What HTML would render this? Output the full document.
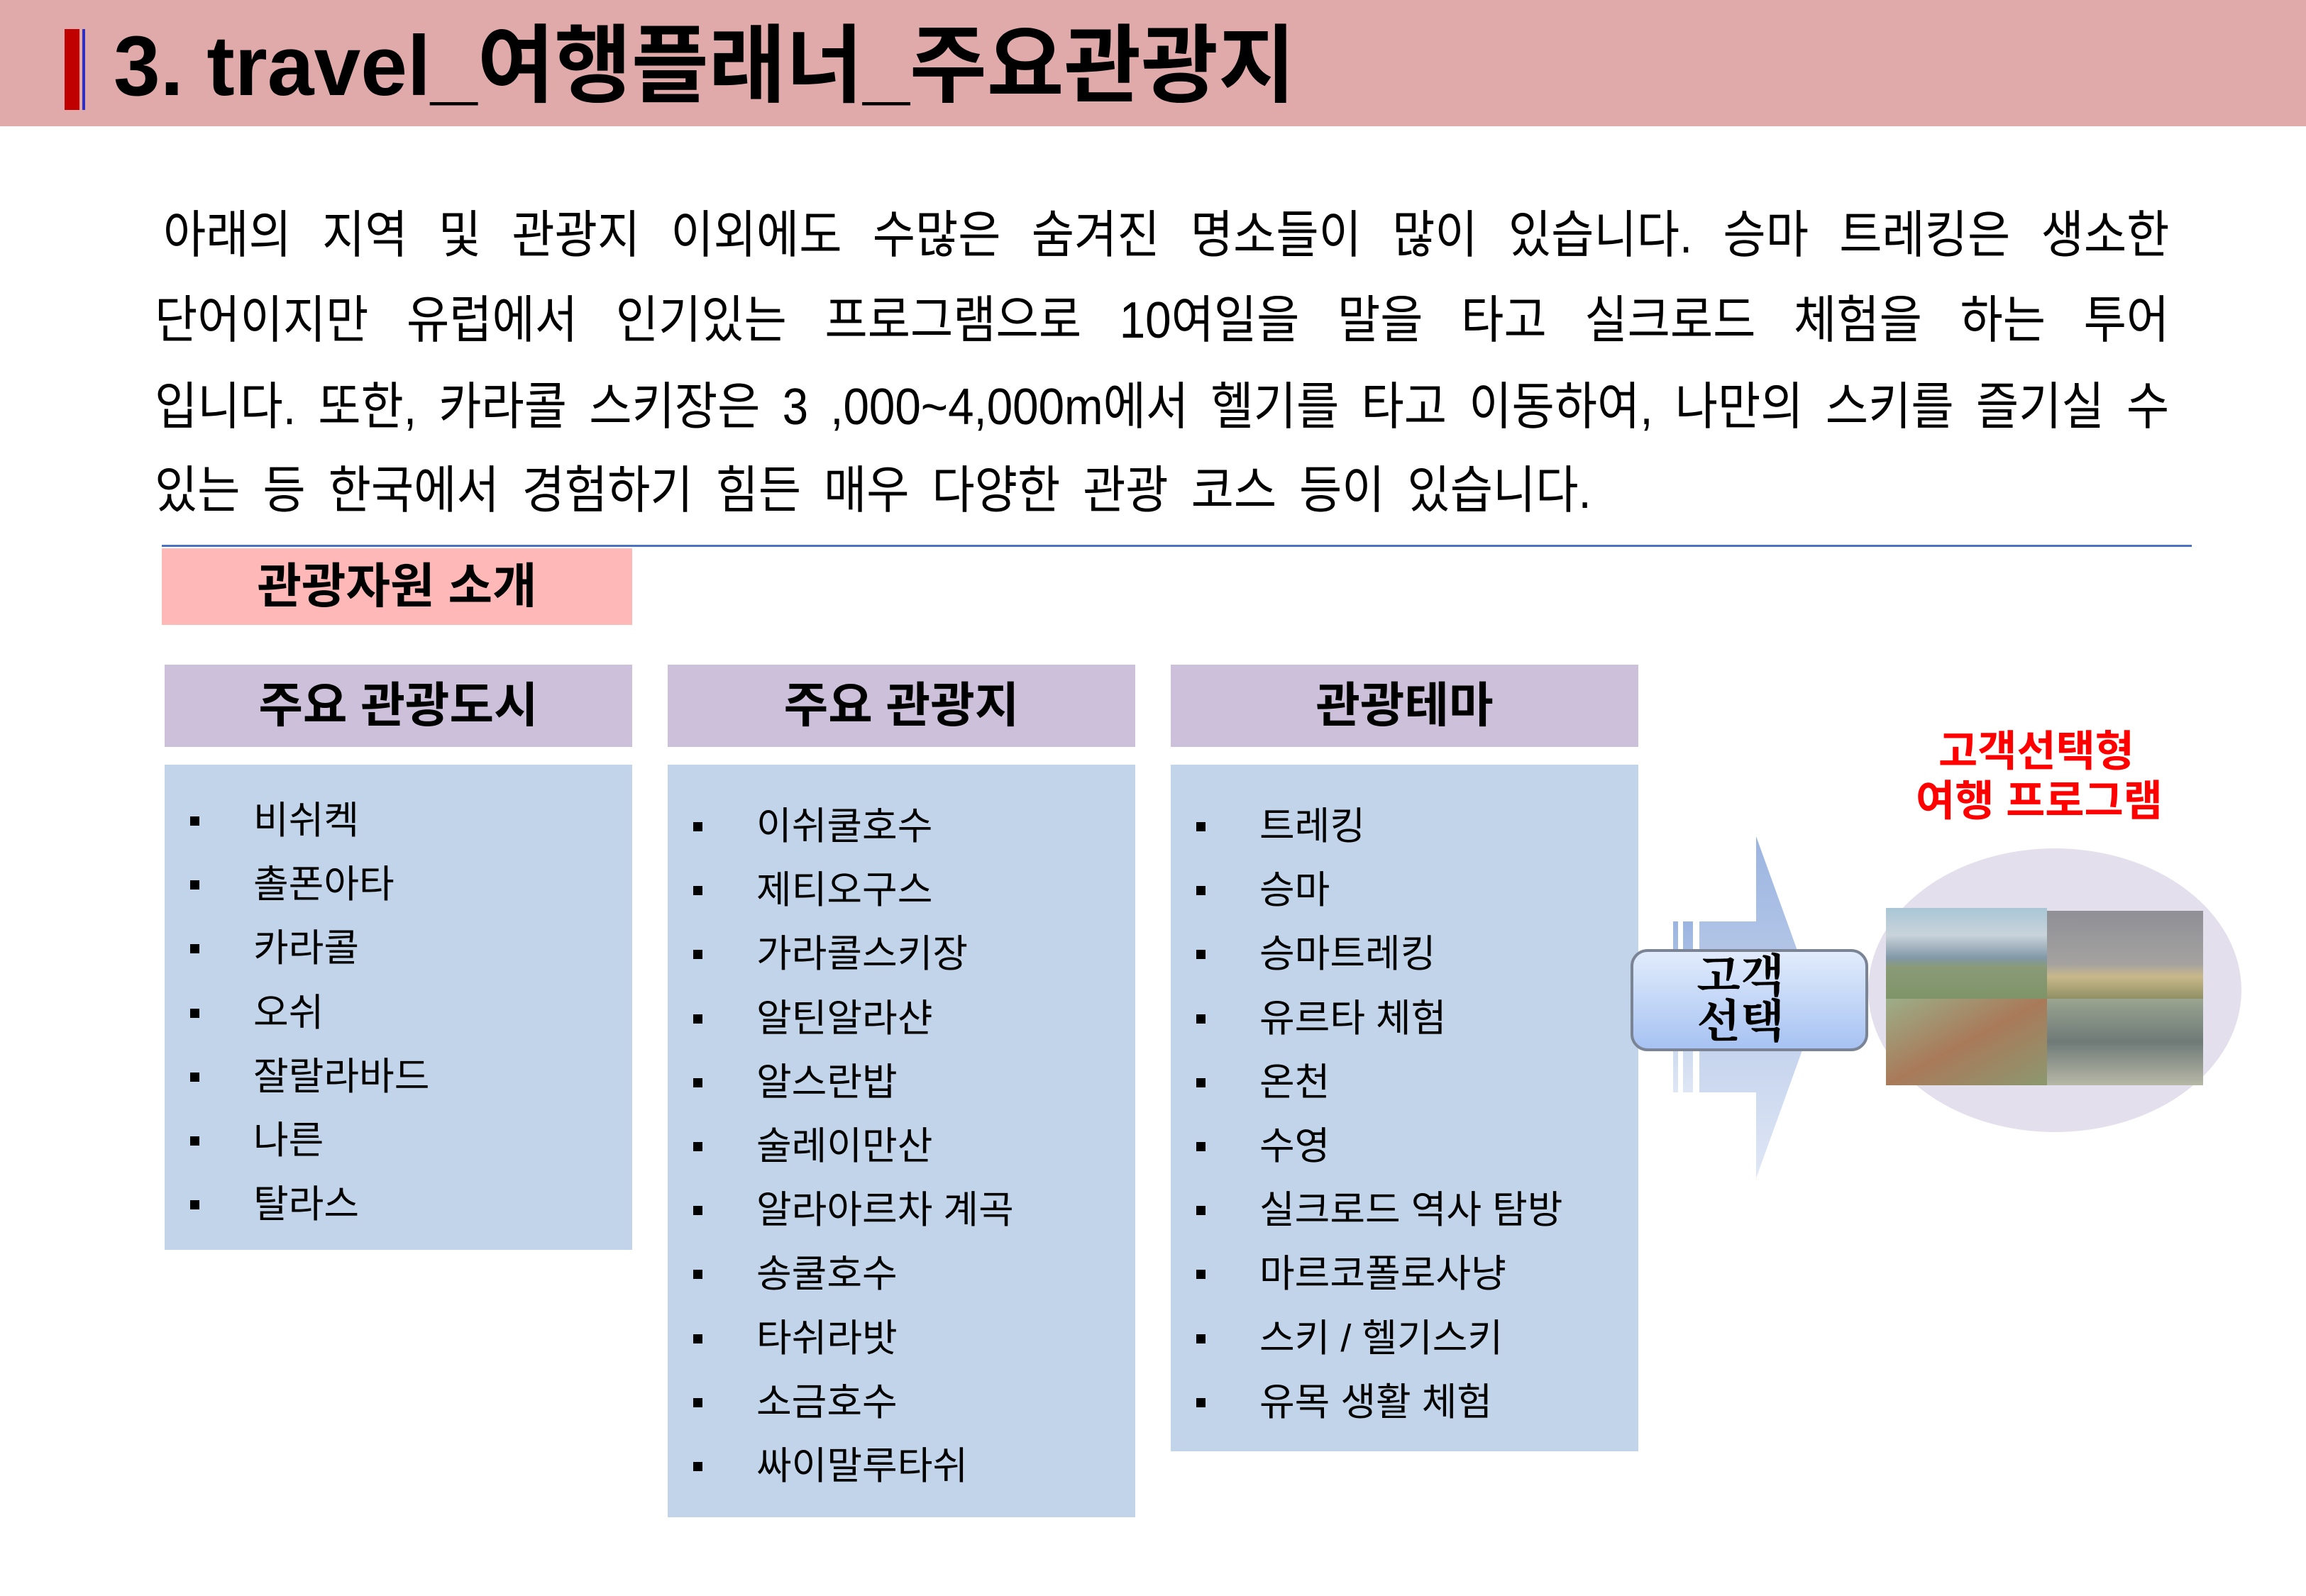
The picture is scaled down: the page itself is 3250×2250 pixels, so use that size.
<!DOCTYPE html>
<html><head><meta charset="utf-8">
<style>
*{margin:0;padding:0;box-sizing:border-box}
body{width:3250px;height:2250px;position:relative;background:#fff;overflow:hidden;font-family:"Liberation Sans","Noto Sans CJK KR",sans-serif;color:#000}
.abs{position:absolute}
.hdr{left:0;top:0;width:3250px;height:178px;background:#e0aaaa}
.title{left:160px;top:18px;font-size:120px;font-weight:bold;line-height:150px;white-space:nowrap;transform:scaleX(0.985);transform-origin:left}
.pl{position:absolute;font-size:72px;line-height:80px;white-space:nowrap;text-align:justify;text-align-last:justify;transform:scaleX(0.91);transform-origin:left}
.colh{background:#ccc0da;font-size:68px;font-weight:bold;text-align:center;line-height:116px;height:116px;top:937px;width:659px}
.colb{background:#c2d4ea;top:1078px;width:659px}
</style></head><body>
<div class="abs hdr"></div>
<div class="abs" style="left:91px;top:41px;width:21px;height:114px;background:#c00000"></div>
<div class="abs" style="left:116px;top:41px;width:4px;height:114px;background:#3030c0"></div>
<div class="abs title">3. travel_여행플래너_주요관광지</div>

<div class="pl" style="left:230px;top:292px;width:3107px">아래의 지역 및 관광지 이외에도 수많은 숨겨진 명소들이 많이 있습니다. 승마 트레킹은 생소한</div>
<div class="pl" style="left:218px;top:412px;width:3120px">단어이지만 유럽에서 인기있는 프로그램으로 10여일을 말을 타고 실크로드 체험을 하는 투어</div>
<div class="pl" style="left:218px;top:534px;width:3120px">입니다. 또한, 카라콜 스키장은 3 ,000~4,000m에서 헬기를 타고 이동하여, 나만의 스키를 즐기실 수</div>
<div class="pl" style="left:218px;top:652px;width:2225px">있는 등 한국에서 경험하기 힘든 매우 다양한 관광 코스 등이 있습니다.</div>

<div class="abs" style="left:228px;top:768px;width:2861px;height:3px;background:#4a72c0"></div>
<div class="abs" style="left:228px;top:773px;width:663px;height:108px;background:#ffb8b8;font-size:68px;font-weight:bold;text-align:center;line-height:108px">관광자원 소개</div>

<div class="abs colh" style="left:232px">주요 관광도시</div>
<div class="abs colh" style="left:941px">주요 관광지</div>
<div class="abs colh" style="left:1650px">관광테마</div>

<div class="abs colb" style="left:232px;height:684px"></div>
<div class="abs colb" style="left:941px;height:1061px"></div>
<div class="abs colb" style="left:1650px;height:968px"></div>

<script>
function col(left,top,items){
  var h='';
  items.forEach(function(t,i){
    var y=top+i*90.2;
    h+='<div class="abs" style="left:'+(left+36)+'px;top:'+(y-6)+'px;width:13px;height:13px;background:#000"></div>';
    h+='<div class="abs" style="left:'+(left+125)+'px;top:'+(y-35)+'px;font-size:54px;line-height:70px;white-space:nowrap">'+t+'</div>';
  });
  document.body.insertAdjacentHTML('beforeend',h);
}
col(232,1157,["비쉬켁","촐폰아타","카라콜","오쉬","잘랄라바드","나른","탈라스"]);
col(941,1165,["이쉬쿨호수","제티오구스","가라콜스키장","알틴알라샨","알스란밥","술레이만산","알라아르차 계곡","송쿨호수","타쉬라밧","소금호수","싸이말루타쉬"]);
col(1650,1165,["트레킹","승마","승마트레킹","유르타 체험","온천","수영","실크로드 역사 탐방","마르코폴로사냥","스키 / 헬기스키","유목 생활 체험"]);
</script>

<div class="abs" style="left:2700px;top:1025px;width:340px;text-align:center;color:#ff0000;font-weight:bold;font-size:60px;line-height:70px;white-space:nowrap">고객선택형<br>여행 프로그램</div>

<svg class="abs" style="left:0;top:0" width="3250" height="2250">
<defs>
<linearGradient id="ag" x1="0" y1="0" x2="0" y2="1"><stop offset="0" stop-color="#9bb4e0"/><stop offset="1" stop-color="#dfe7f5"/></linearGradient>
<linearGradient id="bg" x1="0" y1="0" x2="0" y2="1"><stop offset="0" stop-color="#e2ecfc"/><stop offset="1" stop-color="#a6c2f2"/></linearGradient>
<linearGradient id="p1" x1="0" y1="0" x2="0" y2="1"><stop offset="0" stop-color="#a9c6d6"/><stop offset="0.3" stop-color="#c9d3da"/><stop offset="0.55" stop-color="#8298a8"/><stop offset="0.65" stop-color="#8a9a78"/><stop offset="1" stop-color="#7f9468"/></linearGradient>
<linearGradient id="p2" x1="0" y1="0" x2="0" y2="1"><stop offset="0" stop-color="#8f8f96"/><stop offset="0.6" stop-color="#a4a2a0"/><stop offset="0.75" stop-color="#c9b88a"/><stop offset="1" stop-color="#8f9064"/></linearGradient>
<linearGradient id="p3" x1="0" y1="0" x2="1" y2="1"><stop offset="0" stop-color="#9cae88"/><stop offset="0.5" stop-color="#a97a5a"/><stop offset="1" stop-color="#8c9870"/></linearGradient>
<linearGradient id="p4" x1="0" y1="0" x2="0" y2="1"><stop offset="0" stop-color="#9aa490"/><stop offset="0.5" stop-color="#6f7a78"/><stop offset="1" stop-color="#b7b8a6"/></linearGradient>
</defs>
<ellipse cx="2896" cy="1396" rx="263" ry="200" fill="#e4dfec"/>
<rect x="2658" y="1280" width="227" height="128" fill="url(#p1)"/>
<rect x="2885" y="1284" width="220" height="124" fill="url(#p2)"/>
<rect x="2658" y="1408" width="227" height="122" fill="url(#p3)"/>
<rect x="2885" y="1408" width="220" height="122" fill="url(#p4)"/>
<polygon points="2395,1299 2475,1299 2475,1179 2562,1420 2475,1661 2475,1540 2395,1540" fill="url(#ag)"/>
<rect x="2358" y="1299" width="7" height="241" fill="url(#ag)"/>
<rect x="2372" y="1299" width="14" height="241" fill="url(#ag)"/>
<rect x="2300" y="1340" width="331" height="140" rx="22" fill="url(#bg)" stroke="#7a8494" stroke-width="4"/>
<text x="2453" y="1398" font-size="64" font-weight="bold" text-anchor="middle" font-family="Noto Serif CJK SC,serif">고객</text>
<text x="2453" y="1462" font-size="64" font-weight="bold" text-anchor="middle" font-family="Noto Serif CJK SC,serif">선택</text>
</svg>
</body></html>
